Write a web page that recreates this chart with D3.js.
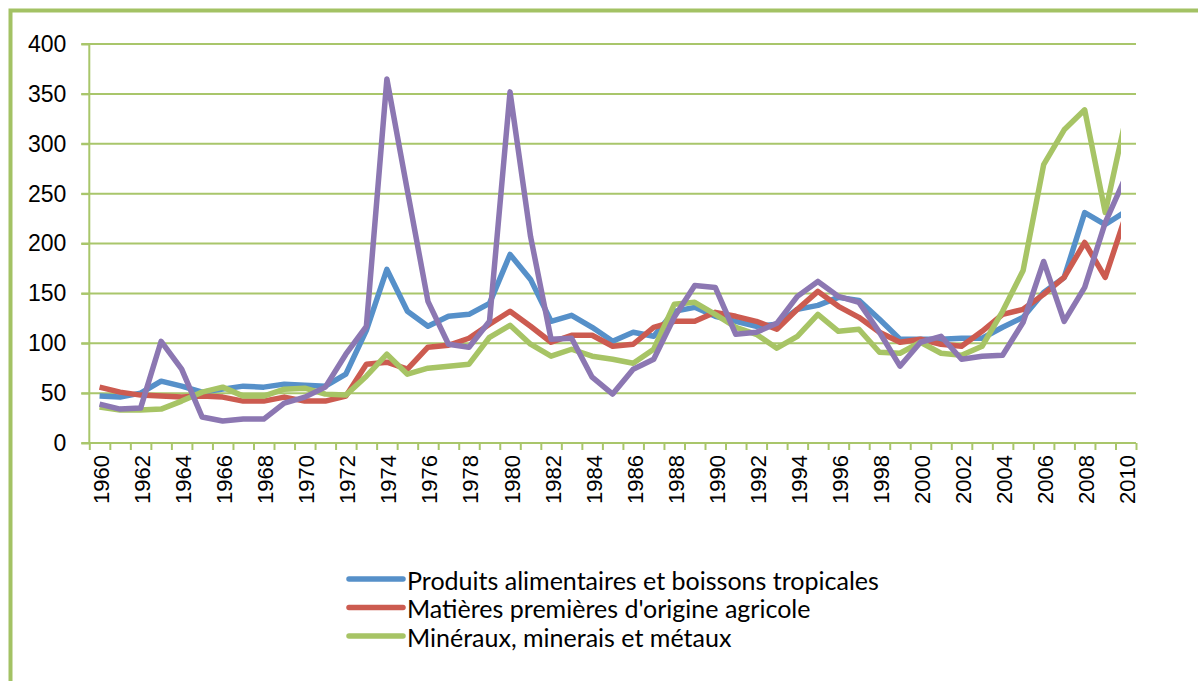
<!DOCTYPE html>
<html><head><meta charset="utf-8">
<script src="https://cdn.jsdelivr.net/npm/d3@7/dist/d3.min.js"></script>
<style>body{margin:0;background:#fff;overflow:hidden} svg{display:block}</style>
</head><body><svg id="c" width="1198" height="681"></svg>
<script>
const years = [1960,1961,1962,1963,1964,1965,1966,1967,1968,1969,1970,1971,1972,1973,1974,1975,1976,1977,1978,1979,1980,1981,1982,1983,1984,1985,1986,1987,1988,1989,1990,1991,1992,1993,1994,1995,1996,1997,1998,1999,2000,2001,2002,2003,2004,2005,2006,2007,2008,2009,2010];
const xTickLabels = [1960,1962,1964,1966,1968,1970,1972,1974,1976,1978,1980,1982,1984,1986,1988,1990,1992,1994,1996,1998,2000,2002,2004,2006,2008,2010];
const yTicks = [0,50,100,150,200,250,300,350,400];
const seriesNames = ["Produits alimentaires et boissons tropicales","Matières premières d'origine agricole","Minéraux, minerais et métaux",""];
const foodBeverages = [47,46,50,62,57,51,54,57,56,59,58,57,69,113,174,132,117,127,129,140,189,164,122,128,116,102,111,107,132,136,127,122,117,119,134,138,146,143,124,104,104,104,105,105,116,126,151,166,231,219,232];
const agriRaw = [56,51,48,47,46,47,46,42,42,46,42,42,47,79,81,74,96,98,105,119,132,117,101,108,108,97,99,116,122,122,131,127,122,114,134,152,137,126,111,101,104,99,97,112,129,134,149,166,201,166,228];
const minerals = [36,33,33,34,42,51,56,47,47,54,55,49,48,67,89,69,75,77,79,106,118,99,87,94,87,84,80,94,139,141,129,116,109,95,107,129,112,114,91,90,101,90,88,97,132,173,279,314,334,231,325];
const fourth = [39,34,35,102,74,26,22,24,24,40,46,56,89,117,365,253,142,99,96,122,352,207,104,105,66,49,74,84,126,158,156,109,111,120,147,162,147,141,111,77,101,107,84,87,88,121,182,122,156,221,267];
const seriesColors = ["#5690C9","#CC5B50","#A7C465","#8C77B2"];

(function(){
const svg = d3.select("#c");
const gridColor = "#A9C66B";
const pLeft = 89.3, pRight = 1136, pTop = 44, pBottom = 443;

// frame
svg.append("path").attr("d","M10.5,700 L10.5,10.5 L1210,10.5")
  .attr("fill","none").attr("stroke","#A3C264").attr("stroke-width",4);

const y = d3.scaleLinear().domain([0,400]).range([pBottom, pTop]);
const xb = d3.scaleLinear().domain([years[0], years[years.length-1]+1]).range([pLeft, pRight]);
const xc = d => xb(d + 0.5);

// gridlines
svg.append("g").selectAll("line").data(yTicks.filter(v=>v>0)).join("line")
  .attr("x1", pLeft-8).attr("x2", pRight).attr("y1", d=>y(d)).attr("y2", d=>y(d))
  .attr("stroke", gridColor).attr("stroke-width", 2);

// y axis
const yAxis = svg.append("g").attr("transform",`translate(${pLeft},0)`)
  .call(d3.axisLeft(y).tickValues(yTicks).tickSize(8).tickPadding(15).tickFormat(d3.format("d")));
yAxis.select(".domain").attr("stroke", gridColor).attr("stroke-width",2).attr("d",`M0,${pTop}V${pBottom}`);
yAxis.selectAll(".tick line").attr("stroke", gridColor).attr("stroke-width",2);
yAxis.selectAll(".tick text").attr("font-family","'Liberation Sans', Arial, sans-serif").attr("font-size",23).attr("fill","#000");

// x axis
const boundaries = years.concat([years[years.length-1]+1]);
const xAxis = svg.append("g").attr("transform",`translate(0,${pBottom})`)
  .call(d3.axisBottom(xb).tickValues(boundaries).tickSize(7).tickFormat(""));
xAxis.select(".domain").attr("stroke", gridColor).attr("stroke-width",2).attr("d",`M${pLeft-8},0H${pRight}`);
xAxis.selectAll(".tick line").attr("stroke", gridColor).attr("stroke-width",2);

svg.append("g").selectAll("text").data(xTickLabels).join("text")
  .attr("transform", d=>`translate(${xc(d)+2},${pBottom+12}) rotate(-90)`)
  .attr("text-anchor","end").attr("dominant-baseline","central")
  .attr("font-family","'Liberation Sans', Arial, sans-serif").attr("font-size",22).attr("fill","#000")
  .text(d=>d);

// lines
svg.append("clipPath").attr("id","clip").append("rect")
  .attr("x", pLeft).attr("y", 0).attr("width", 1121-pLeft).attr("height", 681);
const allSeries = [foodBeverages, agriRaw, minerals, fourth];
const line = d3.line().x((d,i)=>xc(years[i])).y(d=>y(d));
svg.append("g").attr("clip-path","url(#clip)").selectAll("path").data(allSeries).join("path")
  .attr("d", d=>line(d)).attr("fill","none")
  .attr("stroke",(d,i)=>seriesColors[i]).attr("stroke-width",5.5)
  .attr("stroke-linejoin","round");

// legend
const legendY = [579, 607.5, 636];
const lg = svg.append("g");
seriesNames.slice(0,3).forEach((name,i)=>{
  lg.append("line").attr("x1",349).attr("x2",403).attr("y1",legendY[i]).attr("y2",legendY[i])
    .attr("stroke",seriesColors[i]).attr("stroke-width",5.5).attr("stroke-linecap","round");
  lg.append("text").attr("class","lgt").attr("x",407).attr("y",legendY[i]+10.5)
    .attr("font-family","Lato, 'Open Sans', sans-serif").attr("font-size",23).attr("fill","#000")
    .text(name);
});
const first = lg.select(".lgt").node();
const w = first.getComputedTextLength();
const fs = 23 * 472 / w;
lg.selectAll(".lgt").attr("font-size", fs);
})();
</script>
</body></html>
